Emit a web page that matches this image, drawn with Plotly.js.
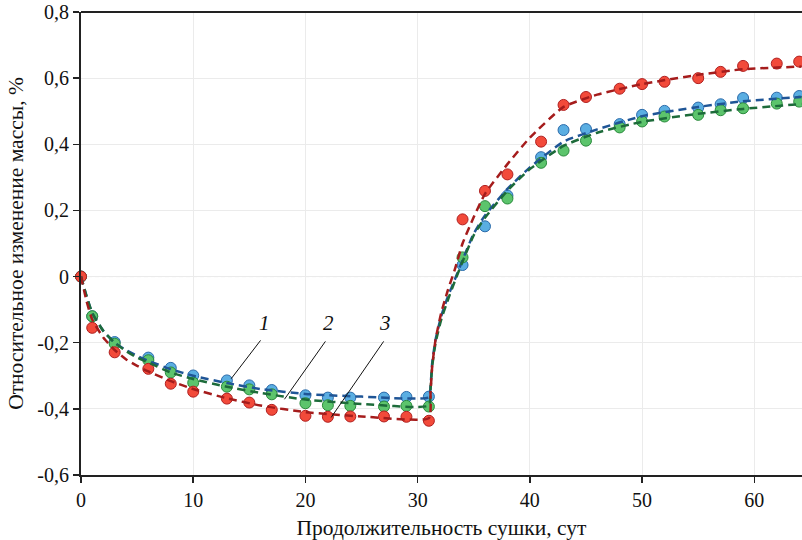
<!DOCTYPE html>
<html><head><meta charset="utf-8">
<script src="https://cdn.plot.ly/plotly-3.0.1.min.js"></script>
<style>html,body{margin:0;padding:0;overflow:hidden;background:#fff}#chart{width:802px;height:540px}</style>
</head><body><div id="chart"></div>
<script>
// measured points
const days = [0,1,3,6,8,10,13,15,17,20,22,24,27,29,31,34,36,38,41,43,45,48,50,52,55,57,59,62,64];
const series1 = [0,-0.12,-0.198,-0.245,-0.276,-0.299,-0.314,-0.329,-0.343,-0.359,-0.366,-0.366,-0.366,-0.364,-0.363,0.035,0.152,0.245,0.361,0.443,0.446,0.461,0.489,0.501,0.511,0.521,0.540,0.541,0.546];
const series2 = [0,-0.12,-0.203,-0.253,-0.29,-0.321,-0.333,-0.341,-0.356,-0.383,-0.389,-0.391,-0.393,-0.391,-0.393,0.058,0.213,0.236,0.344,0.381,0.411,0.451,0.469,0.484,0.489,0.503,0.509,0.523,0.529];
const series3 = [0,-0.155,-0.229,-0.279,-0.324,-0.348,-0.369,-0.381,-0.403,-0.421,-0.424,-0.423,-0.423,-0.424,-0.436,0.173,0.259,0.309,0.408,0.519,0.543,0.568,0.582,0.589,0.600,0.619,0.637,0.644,0.650];
// fitted curves
const curveX = [0,0.5,1,2,3,4,5,6,8,10,13,16,20,25,31,31.15,31.3,31.6,32.1,32.7,33.3,34,35,36,38,40,43,46,50,55,59,64.2];
const curve1 = [0,-0.06,-0.11,-0.165,-0.2,-0.222,-0.24,-0.255,-0.28,-0.3,-0.322,-0.34,-0.355,-0.363,-0.365,-0.33,-0.26,-0.19,-0.12,-0.06,-0.01,0.05,0.13,0.185,0.265,0.33,0.408,0.445,0.485,0.513,0.53,0.543];
const curve2 = [0,-0.06,-0.11,-0.165,-0.2,-0.225,-0.245,-0.26,-0.29,-0.31,-0.333,-0.352,-0.372,-0.385,-0.39,-0.34,-0.27,-0.2,-0.13,-0.07,-0.015,0.045,0.125,0.178,0.26,0.325,0.395,0.435,0.468,0.492,0.507,0.522];
const curve3 = [0,-0.075,-0.13,-0.185,-0.222,-0.25,-0.27,-0.287,-0.316,-0.34,-0.368,-0.39,-0.41,-0.423,-0.428,-0.35,-0.27,-0.19,-0.11,-0.04,0.02,0.1,0.18,0.25,0.34,0.42,0.513,0.55,0.582,0.61,0.627,0.635];
const yTickVals = [-0.6,-0.4,-0.2,0,0.2,0.4,0.6,0.8];
const yTickText = ['-0,6','-0,4','-0,2','0','0,2','0,4','0,6','0,8'];
const xTickVals = [0,10,20,30,40,50,60];
const labels = ['1','2','3'];
const labelX = [16.35,22.05,27.1];
const labelY = [-0.14,-0.14,-0.14];
const leaderX0 = [16.0,21.78,26.97], leaderY0 = [-0.193,-0.196,-0.196];
const leaderX1 = [13.38,18.13,22.29], leaderY1 = [-0.309,-0.371,-0.426];

const font = 'Liberation Serif, Times New Roman, serif';
function pts(y, fill, edge){
  return {x: days, y: y, mode:'markers', type:'scatter', cliponaxis:false, showlegend:false,
    marker:{size:11, color:fill, line:{color:edge, width:1}}};
}
function crv(y, col){
  return {x: curveX, y: y, mode:'lines', type:'scatter', showlegend:false,
    line:{color:col, width:2.5, dash:'8px,5px', shape:'spline', smoothing:0.5}};
}
const data = [
  pts(series1,'#5aaee2','#2a6aaa'),
  pts(series2,'#5cc46c','#2a8a3c'),
  pts(series3,'#f24a3a','#b02020'),
  crv(curve1,'#1f5596'),
  crv(curve2,'#1d6b3a'),
  crv(curve3,'#a51c1c')
];
const shapes = [
  {type:'line', xref:'paper', yref:'y', x0:0, x1:1, y0:0, y1:0, layer:'below', line:{color:'#c4c4c4', width:1, dash:'4px,3px'}},
  {type:'line', xref:'paper', yref:'paper', x0:0, x1:1, y0:1, y1:1, line:{color:'#222', width:2}}
];
for (let i=0;i<labels.length;i++){
  shapes.push({type:'line', xref:'x', yref:'y', x0:leaderX0[i], y0:leaderY0[i], x1:leaderX1[i], y1:leaderY1[i], line:{color:'#111', width:1}});
}
const annotations = labels.map((t,i)=>({x:labelX[i], y:labelY[i], xref:'x', yref:'y', text:'<i>'+t+'</i>', showarrow:false, font:{family:font, size:21, color:'#111'}}));
const layout = {
  width:802, height:540,
  margin:{l:81, r:0, t:12, b:65},
  paper_bgcolor:'#fff', plot_bgcolor:'#fff',
  font:{family:font, size:20, color:'#111'},
  xaxis:{range:[0,64.25], tickvals:xTickVals, ticktext:xTickVals.map(String), showgrid:true, gridcolor:'#ebebeb', gridwidth:1,
    zeroline:false, showline:true, linecolor:'#222', linewidth:2, ticks:'outside', ticklen:6, tickcolor:'#222', tickwidth:1.5,
    tickfont:{family:font, size:20, color:'#111'},
    title:{text:'Продолжительность сушки, сут', font:{family:font, size:21.5, color:'#111'}, standoff:10}},
  yaxis:{range:[-0.6,0.8], tickvals:yTickVals, ticktext:yTickText, showgrid:true, gridcolor:'#ebebeb', gridwidth:1,
    zeroline:false, showline:true, linecolor:'#222', linewidth:2, ticks:'outside', ticklen:6, tickcolor:'#222', tickwidth:1.5,
    tickfont:{family:font, size:20, color:'#111'},
    title:{text:'Относительное изменение массы, %', font:{family:font, size:21.5, color:'#111'}, standoff:8}},
  shapes:shapes, annotations:annotations
};
Plotly.newPlot('chart', data, layout, {displayModeBar:false, staticPlot:true});
</script></body></html>
